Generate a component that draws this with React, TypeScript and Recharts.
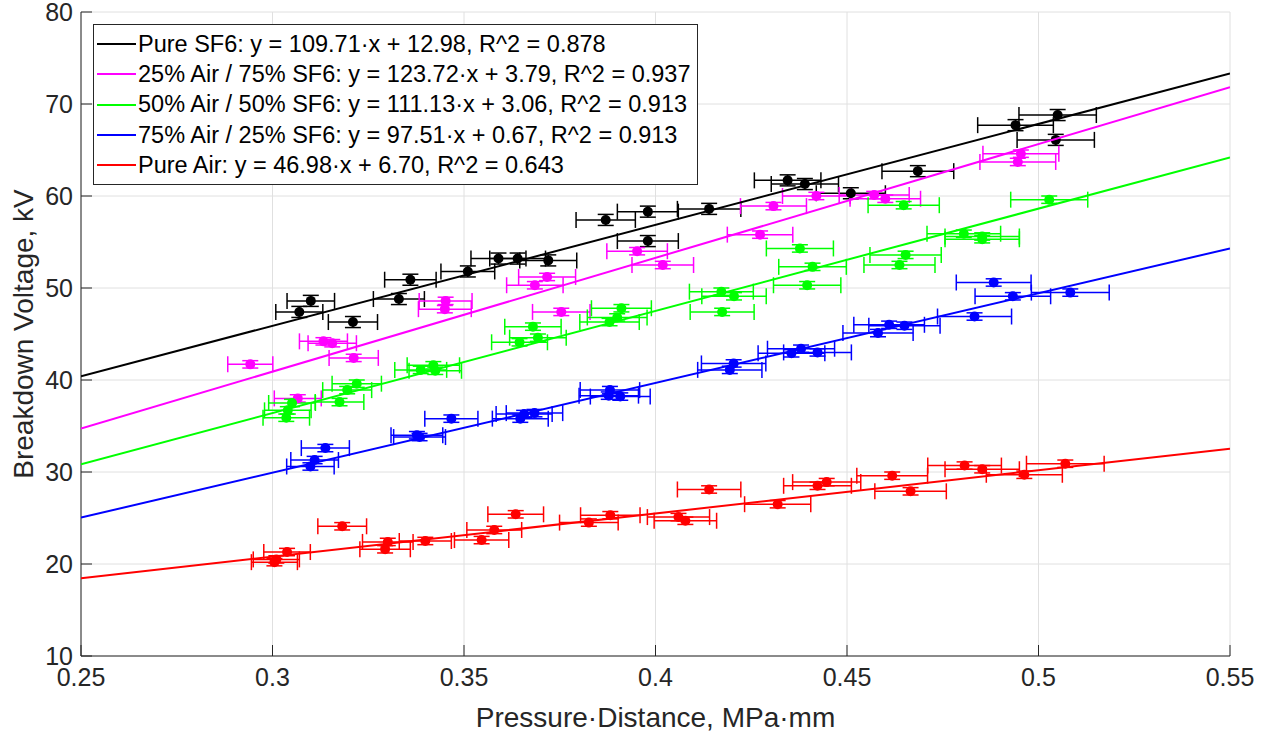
import { ScatterChart, Scatter, XAxis, YAxis, CartesianGrid, ErrorBar, Legend } from 'recharts'

const X_TICKS = [0.25, 0.3, 0.35, 0.4, 0.45, 0.5, 0.55]
const Y_TICKS = [10, 20, 30, 40, 50, 60, 70, 80]

// measured points, pressure*distance (MPa*mm) vs breakdown voltage (kV)
const sf6X = [0.307, 0.310, 0.321, 0.333, 0.336, 0.351, 0.359, 0.364, 0.372, 0.387, 0.398, 0.398, 0.414, 0.4345, 0.439, 0.451, 0.4685, 0.494, 0.505, 0.5045]
const sf6Y = [47.4, 48.6, 46.3, 48.8, 50.9, 51.8, 53.2, 53.2, 53.0, 57.4, 58.3, 55.1, 58.6, 61.7, 61.3, 60.3, 62.7, 67.7, 68.8, 66.1]

const air25X = [0.2942, 0.3066, 0.3133, 0.3156, 0.3212, 0.3452, 0.345, 0.3685, 0.3717, 0.3754, 0.3952, 0.4019, 0.4273, 0.4308, 0.442, 0.4571, 0.46, 0.4954, 0.4946]
const air25Y = [41.7, 38.0, 44.2, 44.0, 42.4, 48.6, 47.7, 50.3, 51.2, 47.4, 54.0, 52.5, 55.8, 58.9, 60.0, 60.1, 59.7, 64.6, 63.7]

const air50X = [0.3036, 0.304, 0.3051, 0.3175, 0.3195, 0.322, 0.3387, 0.342, 0.3425, 0.3645, 0.3693, 0.368, 0.388, 0.39, 0.3911, 0.4172, 0.4205, 0.4174, 0.4377, 0.441, 0.4396, 0.4637, 0.4653, 0.4648, 0.4805, 0.4853, 0.4853, 0.5028]
const air50Y = [35.9, 36.7, 37.5, 37.6, 38.9, 39.6, 41.1, 41.6, 41.0, 44.1, 44.6, 45.8, 46.3, 46.8, 47.8, 49.6, 49.1, 47.4, 54.3, 52.3, 50.3, 52.5, 53.6, 59.0, 55.9, 55.6, 55.3, 59.6]

const air75X = [0.3138, 0.311, 0.3099, 0.3377, 0.3384, 0.3467, 0.3647, 0.3657, 0.3684, 0.3881, 0.3878, 0.3908, 0.4204, 0.4194, 0.4355, 0.438, 0.4423, 0.4581, 0.461, 0.465, 0.4833, 0.4883, 0.4933, 0.5083]
const air75Y = [32.6, 31.3, 30.6, 34.0, 33.8, 35.8, 35.8, 36.3, 36.4, 38.9, 38.3, 38.2, 41.8, 41.1, 42.9, 43.4, 43.0, 45.1, 46.0, 45.9, 46.9, 50.6, 49.1, 49.5]

const airX = [0.3038, 0.301, 0.3005, 0.3182, 0.3301, 0.3294, 0.3399, 0.3546, 0.3579, 0.3635, 0.3882, 0.3826, 0.414, 0.406, 0.4078, 0.4319, 0.4423, 0.4447, 0.4618, 0.4666, 0.4807, 0.4853, 0.4963, 0.507]
const airY = [21.3, 20.5, 20.2, 24.1, 22.4, 21.6, 22.5, 22.6, 23.7, 25.4, 25.3, 24.5, 28.1, 25.1, 24.7, 26.5, 28.5, 28.9, 29.6, 27.9, 30.7, 30.3, 29.7, 30.9]

const NAMES = ['Pure SF6', '25% Air / 75% SF6', '50% Air / 50% SF6', '75% Air / 25% SF6', 'Pure Air']
const SLOPES = [109.71, 123.72, 111.13, 97.51, 46.98]
const INTERCEPTS = [12.98, 3.79, 3.06, 0.67, 6.7]
const R2 = [0.878, 0.937, 0.913, 0.913, 0.643]
const X_REL_ERR = 0.02 // 2% uncertainty on p*d
const Y_ERR = [0.6, 0.4, 0.4, 0.4, 0.4]
const COLORS = ['#000000', '#ff00ff', '#00ff00', '#0000ff', '#ff0000']

const FONT = '"Liberation Sans", Arial, Helvetica, sans-serif'
const AXIS = '#262626'
const X_MIN = 0.25
const X_MAX = 0.55

const groups = [
  [sf6X, sf6Y],
  [air25X, air25Y],
  [air50X, air50Y],
  [air75X, air75Y],
  [airX, airY],
].map(([xs, ys], i) => ({
  name: NAMES[i],
  color: COLORS[i],
  points: xs.map((x, j) => ({ x, y: ys[j], ex: x * X_REL_ERR, ey: Y_ERR[i] })),
  fit: [X_MIN, X_MAX].map((x) => ({ x, y: SLOPES[i] * x + INTERCEPTS[i] })),
  label: `${NAMES[i]}: y = ${SLOPES[i].toFixed(2)}·x + ${INTERCEPTS[i].toFixed(2)}, R^2 = ${R2[i].toFixed(3)}`,
}))

function LegendBox() {
  return (
    <div
      style={{
        border: `1px solid ${AXIS}`,
        background: '#fff',
        width: 603,
        height: 155,
        boxSizing: 'content-box',
        paddingTop: 4,
        fontSize: 23.5,
        color: '#000',
      }}
    >
      {groups.map((g) => (
        <div key={g.name} style={{ display: 'flex', alignItems: 'center', height: 30.3, whiteSpace: 'nowrap' }}>
          <svg width={44} height={6} style={{ flex: 'none' }}>
            <line x1={3} y1={3} x2={42} y2={3} stroke={g.color} strokeWidth={2} />
          </svg>
          <span>{g.label}</span>
        </div>
      ))}
    </div>
  )
}

export default function App() {
  return (
    <div style={{ position: 'absolute', left: 0, top: 0, width: 1269, height: 734, background: '#fff', fontFamily: FONT }}>
      <ScatterChart width={1269} height={734} margin={{ top: 12, right: 39, bottom: 0, left: 0 }}>
        <CartesianGrid stroke="#e0e0e0" />
        <XAxis
          type="number"
          dataKey="x"
          domain={[X_MIN, X_MAX]}
          ticks={X_TICKS}
          interval={0}
          allowDataOverflow
          height={78}
          tickSize={-11}
          tickMargin={23}
          stroke={AXIS}
          tick={{ fill: AXIS, fontSize: 25 }}
          tickFormatter={(v) => String(v)}
          label={{ value: 'Pressure·Distance, MPa·mm', position: 'insideBottom', offset: 7, fill: AXIS, fontSize: 28 }}
        />
        <XAxis xAxisId="top" orientation="top" type="number" dataKey="x" domain={[X_MIN, X_MAX]} ticks={X_TICKS} height={0} tick={false} tickSize={-11} stroke={AXIS} />
        <YAxis
          type="number"
          dataKey="y"
          domain={[10, 80]}
          ticks={Y_TICKS}
          interval={0}
          allowDataOverflow
          width={81}
          tickSize={-11}
          tickMargin={19}
          stroke={AXIS}
          tick={{ fill: AXIS, fontSize: 25 }}
          label={{ value: 'Breakdown Voltage, kV', position: 'insideLeft', angle: -90, offset: 23, fill: AXIS, fontSize: 28, style: { textAnchor: 'middle' } }}
        />
        <YAxis yAxisId="right" orientation="right" type="number" domain={[10, 80]} ticks={Y_TICKS} width={0} tick={false} tickSize={-11} stroke={AXIS} />
        <Legend
          layout="vertical"
          align="center"
          verticalAlign="middle"
          wrapperStyle={{ left: 93, top: 24, width: 'auto' }}
          content={() => <LegendBox />}
        />
        {groups.map((g) => [
          <Scatter
            key={g.name + '-pts'}
            name={g.name}
            data={g.points}
            fill={g.color}
            legendType="none"
            isAnimationActive={false}
            shape={(p: any) => <circle cx={p.cx} cy={p.cy} r={5} fill={g.color} />}
          >
            <ErrorBar dataKey="ex" direction="x" width={8} stroke={g.color} strokeWidth={1.5} isAnimationActive={false} />
            <ErrorBar dataKey="ey" direction="y" width={8} stroke={g.color} strokeWidth={1.5} isAnimationActive={false} />
          </Scatter>,
          <Scatter
            key={g.name + '-fit'}
            name={g.name + ' fit'}
            data={g.fit}
            legendType="none"
            isAnimationActive={false}
            line={{ stroke: g.color, strokeWidth: 2 }}
            shape={() => <g />}
          />,
        ])}
      </ScatterChart>
    </div>
  )
}
